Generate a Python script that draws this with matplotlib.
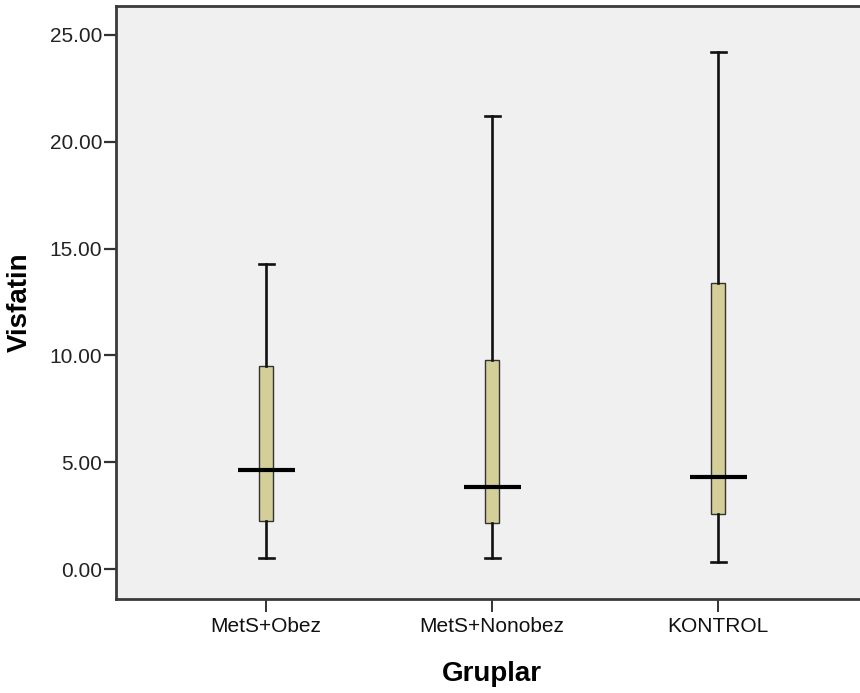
import matplotlib
matplotlib.use("Agg")
import matplotlib.pyplot as plt

# values
groups = ["MetS+Obez", "MetS+Nonobez", "KONTROL"]
whisker_low = [0.50, 0.53, 0.31]
q1 = [2.25, 2.17, 2.56]
median = [4.66, 3.82, 4.32]
q3 = [9.50, 9.78, 13.37]
whisker_high = [14.26, 21.2, 24.21]
yticks = [0, 5, 10, 15, 20, 25]

plt.rcParams['font.family'] = ['Liberation Sans', 'DejaVu Sans']

fig = plt.figure(figsize=(8.6, 6.93), dpi=100)
ax = fig.add_axes([0.1349, 0.1356, 0.8651, 0.8557])
ax.set_facecolor('#F0F0F0')

positions = list(range(1, len(groups) + 1))
stats = []
for i, g in enumerate(groups):
    stats.append({
        'label': g,
        'whislo': whisker_low[i],
        'q1': q1[i],
        'med': median[i],
        'q3': q3[i],
        'whishi': whisker_high[i],
        'fliers': [],
    })

ax.bxp(stats, positions=positions, widths=0.062, capwidths=0.066,
       patch_artist=True, showfliers=False,
       boxprops=dict(facecolor='#D4CF98', edgecolor='#333333', linewidth=1.0),
       whiskerprops=dict(color='#111111', linewidth=1.9),
       capprops=dict(color='#111111', linewidth=1.9),
       medianprops=dict(linestyle='none'))

# median bars stick out past the boxes
ax.hlines(median, [p - 0.126 for p in positions], [p + 0.126 for p in positions],
          colors='black', linewidth=3.0, zorder=4)

xlim = (0.336, 3.628)
ax.set_xlim(*xlim)
ax.set_ylim(-1.40, 26.35)
ax.set_xticks(positions)
ax.set_xticklabels(groups, fontsize=15, color='#111111')
ax.set_yticks(yticks)
ax.set_yticklabels([f"{v:.2f}" for v in yticks], fontsize=15, color='#222222')

for side in ['left', 'bottom', 'top']:
    ax.spines[side].set_color('#3a3a3a')
    ax.spines[side].set_linewidth(2.0)
ax.spines['right'].set_visible(False)
ax.tick_params(axis='y', length=9, width=1.6, color='#333333', pad=1)
ax.tick_params(axis='x', length=9, width=1.4, color='#333333', pad=4)

ax.set_ylabel('Visfatin', fontsize=20, fontweight='bold')
ax.set_xlabel('Gruplar', fontsize=20, fontweight='bold')
ax.yaxis.set_label_coords(-0.112, 0.5)
ax.xaxis.set_label_coords((2 - xlim[0]) / (xlim[1] - xlim[0]), -0.105)

fig.savefig('out.png', dpi=100)
